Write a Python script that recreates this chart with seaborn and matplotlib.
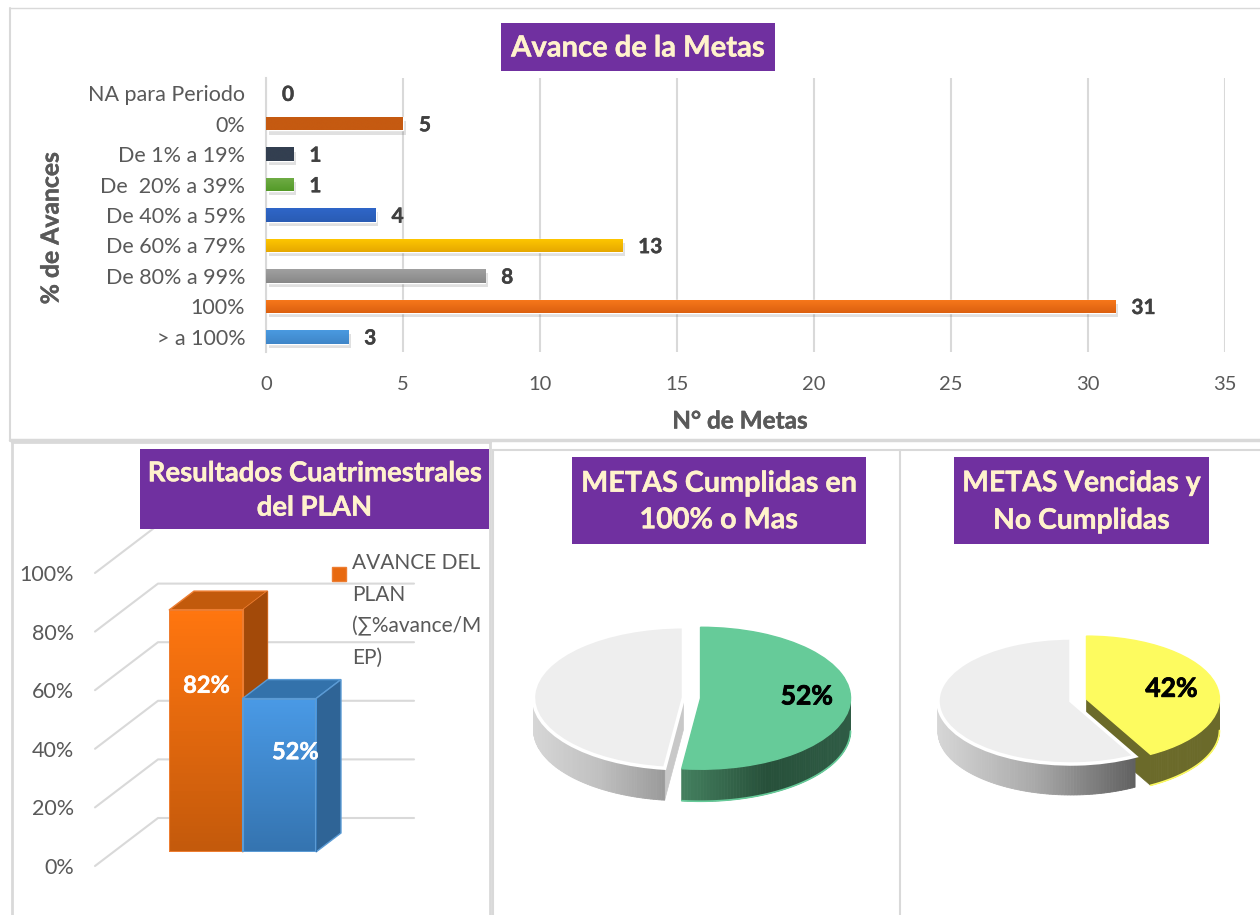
import numpy as np
import matplotlib
matplotlib.use("Agg")
import matplotlib.pyplot as plt
import matplotlib.patheffects as pe
from matplotlib.colors import LinearSegmentedColormap as LSC
from matplotlib.lines import Line2D
from matplotlib.patches import Rectangle, Patch
import seaborn as sns

# ---- data ----
avance_cats = ["NA para Periodo", "0%", "De 1% a 19%", "De  20% a 39%", "De 40% a 59%",
               "De 60% a 79%", "De 80% a 99%", "100%", "> a 100%"]
avance_vals = [0, 5, 1, 1, 4, 13, 8, 31, 3]
avance_tops = ["#eeeeee", "#c55a11", "#333f50", "#70ad47", "#2f66c8", "#ffc800", "#a0a0a0", "#f8791c", "#4a9ae0"]
avance_bots = ["#eeeeee", "#c55a11", "#333f50", "#549a28", "#2a5cb4", "#e6a800", "#888888", "#dc600f", "#3f86c8"]
x_ticks = [0, 5, 10, 15, 20, 25, 30, 35]

plan_cats = ["Avance", "Metas"]
plan_vals = [82, 52]
plan_labels = ["82%", "52%"]
plan_ticks = [0, 20, 40, 60, 80, 100]
legend_label = "AVANCE DEL\nPLAN\n(∑%avance/M\nEP)"

cumplidas_vals = [52, 48]
vencidas_vals = [42, 58]

titles = ["Avance de la Metas", "Resultados Cuatrimestrales\ndel PLAN",
          "METAS Cumplidas en\n100% o Mas", "METAS Vencidas y\nNo Cumplidas"]

# ---- style ----
sns.set_theme(style="white")
plt.rcParams["font.family"] = ["Lato", "DejaVu Sans"]
W, H = 1260, 915
GRID = "#d9d9d9"
TXT = "#595959"
fig = plt.figure(figsize=(W / 100, H / 100), dpi=100, facecolor="white")


def axes_px(x0, y0, x1, y1):
    return fig.add_axes([x0 / W, 1 - y1 / H, (x1 - x0) / W, (y1 - y0) / H], facecolor="none")


def embolden(text, colour, lw=0.5):
    text.set_path_effects([pe.withStroke(linewidth=lw, foreground=colour)])


def gradient(ax, bar, top, bot, zorder):
    xl, yl = ax.get_xlim(), ax.get_ylim()
    b = bar.get_bbox()
    if b.width == 0:
        return
    cm = LSC.from_list("g", [top, bot])
    inverted = yl[0] > yl[1]
    y_top, y_bot = (b.y0, b.y1) if inverted else (b.y1, b.y0)
    im = ax.imshow(np.linspace(0, 1, 64)[:, None], cmap=cm, aspect="auto", origin="upper",
                   extent=(b.x0, b.x1, y_bot, y_top), zorder=zorder)
    im.set_clip_path(bar)
    ax.set_xlim(xl)
    ax.set_ylim(yl)


# ---- panel frame ----
for (xa, ya, xb, yb, lw) in [(10, 8, 1260, 8, 1.0), (10, 8, 10, 440, 1.5), (10, 440, 1260, 440, 2.5),
                             (12, 442, 12, 915, 2), (12, 442, 490, 442, 2), (490, 442, 490, 915, 2),
                             (493, 450, 1260, 450, 1.5), (493, 450, 493, 915, 1.5), (900, 450, 900, 915, 1.5)]:
    fig.add_artist(Line2D([xa / W, xb / W], [1 - ya / H, 1 - yb / H], color=GRID, lw=lw))

# ---- title boxes ----
boxes = [(501, 23, 775, 71), (140, 449, 489, 529), (572, 457, 866, 544), (954, 457, 1209, 544)]
title_sizes = [21, 19.8, 20.7, 20.4]
title_spacing = [1.25, 1.4, 1.5, 1.55]
for title, (x0, y0, x1, y1), fs, ls in zip(titles, boxes, title_sizes, title_spacing):
    fig.add_artist(Rectangle((x0 / W, 1 - y1 / H), (x1 - x0) / W, (y1 - y0) / H, transform=fig.transFigure,
                             facecolor="#7030a0", edgecolor="none", zorder=5))
    tt = fig.text((x0 + x1) / 2 / W, 1 - ((y0 + y1) / 2 + 1.5) / H, title, color="#fff2cc", fontsize=fs,
                  fontweight="bold", ha="center", va="center", linespacing=ls, zorder=6)
    embolden(tt, "#fff2cc", 0.3)

# ---- horizontal bars ----
ax = axes_px(266, 78, 1225, 352)
sns.barplot(x=avance_vals, y=avance_cats, hue=avance_cats, palette=avance_tops, orient="h",
            width=13.5 / 30.4, legend=False, ax=ax, zorder=2)
ax.set_xlim(0, 35)
ax.set_ylim(8.5, -0.5)
ax.set_xticks(x_ticks)
ax.grid(axis="x", color=GRID, lw=1.5)
ax.grid(axis="y", visible=False)
ax.set_axisbelow(True)
for s in ["top", "right", "bottom"]:
    ax.spines[s].set_visible(False)
ax.spines["left"].set_color(GRID)
ax.spines["left"].set_linewidth(1.5)
ax.tick_params(axis="y", length=0, labelsize=15.5, labelcolor=TXT, pad=15)
ax.tick_params(axis="x", length=0, labelsize=14.5, labelcolor=TXT, pad=17)
for c, top, bot in zip(ax.containers, avance_tops, avance_bots):
    for bar in c:
        bar.set_path_effects([pe.SimplePatchShadow(offset=(2, -3), alpha=0.2, shadow_rgbFace="#666666"), pe.Normal()])
        gradient(ax, bar, top, bot, 3)
    for ann in ax.bar_label(c, padding=11.5, fontsize=15, fontweight="bold", color="#404040", zorder=4):
        ann.xyann = (ann.xyann[0], ann.xyann[1] - 1.2)
        embolden(ann, "#404040", 0.3)
ax.set_xlabel("N° de Metas", fontsize=17.5, fontweight="bold", color=TXT, va="center")
ax.set_ylabel("% de Avances", fontsize=17.8, fontweight="bold", color=TXT, va="center")
ax.xaxis.set_label_coords((740 - 266) / 959, (352 - 421) / 274)
ax.yaxis.set_label_coords((51 - 266) / 959, (352 - 228) / 274)
embolden(ax.xaxis.label, TXT, 0.3)
embolden(ax.yaxis.label, TXT, 0.3)

# ---- pseudo 3D columns: walls ----
wall = axes_px(95, 573, 414, 866)
wall.set_xlim(0, 1)
wall.set_ylim(0, 100)
wall.set_yticks(plan_ticks)
wall.set_yticklabels([f"{t}%" for t in plan_ticks])
wall.set_xticks([])
wall.tick_params(axis="y", length=0, labelsize=15.5, labelcolor=TXT, pad=15)
for s in wall.spines.values():
    s.set_visible(False)
wall_dx, wall_dy = 63 / 319, 48 / 2.93
for t in plan_ticks:
    wall.plot([0, wall_dx, 1], [t, t + wall_dy, t + wall_dy], color=GRID, lw=1.5, clip_on=False, zorder=1)

# ---- pseudo 3D columns: bars ----
bx = axes_px(169, 557, 316, 852)
sns.barplot(x=plan_cats, y=plan_vals, hue=plan_cats, palette=["#ff7610", "#4a9ae6"], width=1.0,
            legend=False, ax=bx)
bx.set_xlim(-0.5, 1.5)
bx.set_ylim(0, 100)
bx.axis("off")
depth_x, depth_y = 25 / 73.5, 19 / 2.95
faces = [dict(top="#ff7610", bot="#c45a0c", roof="#c25a0c", side="#a34a09", side2="#a34a09", edge="#ed7d31"),
         dict(top="#4a9ae6", bot="#3574b0", roof="#3372ab", side="#2f6496", side2="#1f4a70", edge="#5b9bd5")]
for k, (c, f) in enumerate(zip(bx.containers, faces)):
    z = 2 + 2 * k
    bar = c[0]
    b = bar.get_bbox()
    bx.fill([b.x0, b.x1, b.x1 + depth_x, b.x0 + depth_x], [b.y1, b.y1, b.y1 + depth_y, b.y1 + depth_y],
            facecolor=f["roof"], edgecolor=f["edge"], lw=1, clip_on=False, zorder=z)
    poly = bx.fill([b.x1, b.x1 + depth_x, b.x1 + depth_x, b.x1], [b.y1, b.y1 + depth_y, depth_y, 0],
                   facecolor=f["side"], edgecolor=f["edge"], lw=1, clip_on=False, zorder=z)[0]
    cm = LSC.from_list("s", [f["side"], f["side2"]])
    im = bx.imshow(np.linspace(0, 1, 64)[:, None], cmap=cm, aspect="auto", origin="upper",
                   extent=(b.x1, b.x1 + depth_x, 0, b.y1 + depth_y), zorder=z + 0.5, clip_on=True)
    im.set_clip_path(poly)
    bx.set_xlim(-0.5, 1.5)
    bx.set_ylim(0, 100)
    gradient(bx, bar, f["top"], f["bot"], z + 1.5)
    bar.set_facecolor("none")
    bar.set_edgecolor(f["edge"])
    bar.set_linewidth(1.5)
    bar.set_zorder(z + 1.8)
for lab, x, y in zip(plan_labels, [0.01, 1.22], [56.5, 34]):
    tl = bx.text(x, y, lab, color="white", fontsize=17, fontweight="bold", ha="center", va="center", zorder=9)
    embolden(tl, "white", 0.3)
wall.legend(handles=[Patch(facecolor="#e8690f", edgecolor="#ed7d31", label=legend_label)], frameon=False,
            loc="upper left", bbox_to_anchor=((332 - 95) / 319, (573 - 553) / 293 + 1), borderaxespad=0,
            borderpad=0, fontsize=15, labelcolor=TXT, handlelength=0.67, handleheight=0.67, handletextpad=0.28,
            labelspacing=0)
leg = wall.get_legend()
for t in leg.get_texts():
    t.set_linespacing(1.72)
handle = leg.legend_handles[0]
handle.set_y(handle.get_y() + 27)


# ---- pseudo 3D pies ----
def pie3d(values, explode, cx, cy, rx, ry, depth_px, colors, edges, ramps, cut_colors, side_edge, pct, pct_lift):
    a = axes_px(cx - 1.3 * rx, cy - 1.3 * ry, cx + 1.3 * rx, cy + 1.3 * ry + depth_px)
    d = depth_px / ry
    total = sum(values)
    f0 = 0.0
    for value, ex, ramp, cut, se in zip(values, explode, ramps, cut_colors, side_edge):
        f1 = f0 + value / total
        mid = (f0 + f1) * np.pi
        ox, oy = ex * np.sin(mid), ex * np.cos(mid)
        t = np.linspace(f0, f1, 160) * 2 * np.pi
        x, y = ox + np.sin(t), oy + np.cos(t)
        if cut is not None:
            a.fill([ox, x[-1] if cut[0] == "end" else x[0], x[-1] if cut[0] == "end" else x[0], ox],
                   [oy, y[-1] if cut[0] == "end" else y[0], (y[-1] if cut[0] == "end" else y[0]) - d, oy - d],
                   color=cut[1], lw=0.5, zorder=1)
        vis = np.cos(t) < 0
        xv = x[vis]
        cm = LSC.from_list("r", ramp)
        for i in range(len(t) - 1):
            if vis[i] and vis[i + 1]:
                u = ((x[i] + x[i + 1]) / 2 - xv.min()) / (xv.max() - xv.min())
                a.fill([x[i], x[i + 1], x[i + 1], x[i]], [y[i], y[i + 1], y[i + 1] - d, y[i] - d],
                       color=cm(u), lw=0.6, zorder=1)
        if se is not None:
            a.plot(x[vis], y[vis] - d, color=se, lw=1.2, zorder=1.2)
        f0 = f1
    wedges, _, autos = a.pie(values, colors=colors, explode=explode, startangle=90, counterclock=False,
                             autopct=lambda p: f"{p:.0f}%" if p == values[0] * 100 / total else "",
                             pctdistance=pct, textprops=dict(fontsize=19, fontweight="bold", color="black"))
    for w, e, lw in zip(wedges, edges, [1.0, 2.5]):
        w.set_edgecolor(e)
        w.set_linewidth(lw)
        w.set_zorder(2)
    for tx in autos:
        tx.set_zorder(3)
        tx.set_y(tx.get_position()[1] + pct_lift)
        tx.set_path_effects([pe.SimpleLineShadow(offset=(1, -1), alpha=0.35),
                             pe.withStroke(linewidth=0.6, foreground="black")])
    a.set_aspect("auto")
    a.set_xlim(-1.3, 1.3)
    a.set_ylim(-1.3 - d, 1.3)
    a.axis("off")


pie3d(cumplidas_vals, [0.057, 0.057], 692, 698, 150, 71, 32,
      ["#66cb99", "#eeeeee"], ["#66cb99", "white"],
      [["#44805f", "#27503a", "#2f5c45"], ["#d6d6d6", "#c0c0c0", "#9a9a9a"]],
      [None, ("start", "#c8c8c8")], ["#66cb99", None], 0.71, 0.07)
pie3d(vencidas_vals, [0.12, 0.0], 1071, 701, 133, 63, 31,
      ["#fdfb5f", "#eeeeee"], ["#fdfb5f", "white"],
      [["#6b6a2a", "#6b6a2a"], ["#d6d6d6", "#a8a8a8", "#606060"]],
      [("end", "#6b6a2a"), None], ["#fdfb5f", None], 0.66, 0.0)

fig.savefig("out.png", dpi=100)
